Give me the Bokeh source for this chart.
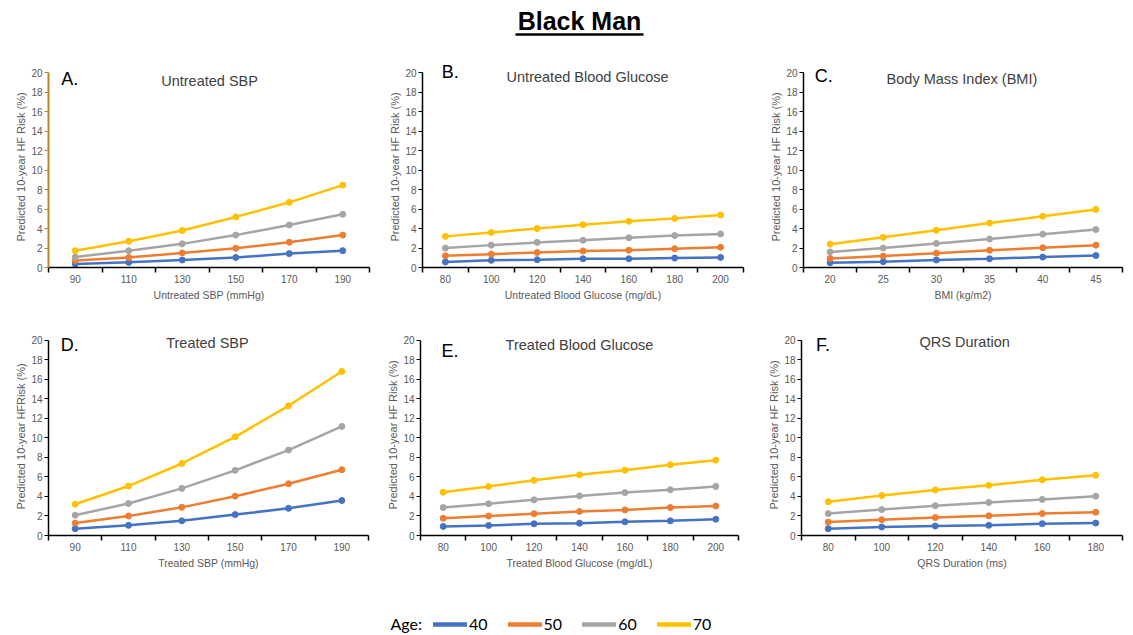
import numpy as np
from bokeh.plotting import figure
from bokeh.layouts import column, row
from bokeh.models import Range1d, FixedTicker, Label, Legend, LegendItem, Title
from bokeh.embed import file_html
from bokeh.resources import INLINE

# ---------------- data ----------------
AGES = ["40", "50", "60", "70"]
COLORS = ["#4472C4", "#ED7D31", "#A5A5A5", "#FFC000"]

sbp_cats = ["90", "110", "130", "150", "170", "190"]
glucose_cats = ["80", "100", "120", "140", "160", "180", "200"]
bmi_cats = ["20", "25", "30", "35", "40", "45"]
qrs_cats = ["80", "100", "120", "140", "160", "180"]

# A. Untreated SBP
a_40 = [0.37, 0.53, 0.77, 1.03, 1.43, 1.73]
a_50 = [0.73, 1.03, 1.50, 1.97, 2.60, 3.33]
a_60 = [1.07, 1.73, 2.43, 3.33, 4.37, 5.47]
a_70 = [1.73, 2.70, 3.80, 5.20, 6.70, 8.47]
# B. Untreated Blood Glucose
b_40 = [0.57, 0.74, 0.80, 0.90, 0.90, 0.97, 1.04]
b_50 = [1.20, 1.37, 1.54, 1.70, 1.78, 1.94, 2.08]
b_60 = [2.00, 2.30, 2.58, 2.80, 3.05, 3.28, 3.45]
b_70 = [3.20, 3.60, 4.00, 4.40, 4.75, 5.05, 5.40]
# C. BMI
c_40 = [0.50, 0.60, 0.77, 0.90, 1.07, 1.23]
c_50 = [0.93, 1.17, 1.47, 1.77, 2.03, 2.30]
c_60 = [1.60, 2.00, 2.47, 2.93, 3.43, 3.90]
c_70 = [2.40, 3.10, 3.83, 4.57, 5.27, 5.97]
# D. Treated SBP
d_40 = [0.70, 1.04, 1.50, 2.14, 2.78, 3.58]
d_50 = [1.27, 2.00, 2.88, 4.02, 5.29, 6.73]
d_60 = [2.08, 3.28, 4.82, 6.67, 8.74, 11.16]
d_70 = [3.20, 5.06, 7.37, 10.10, 13.27, 16.78]
# E. Treated Blood Glucose
e_40 = [0.93, 1.03, 1.20, 1.26, 1.40, 1.50, 1.66]
e_50 = [1.76, 1.99, 2.23, 2.46, 2.62, 2.86, 3.02]
e_60 = [2.86, 3.26, 3.65, 4.05, 4.39, 4.68, 5.02]
e_70 = [4.42, 5.02, 5.65, 6.21, 6.68, 7.24, 7.71]
# F. QRS Duration
f_40 = [0.70, 0.87, 0.97, 1.04, 1.21, 1.27]
f_50 = [1.37, 1.61, 1.84, 2.01, 2.24, 2.38]
f_60 = [2.24, 2.65, 3.05, 3.38, 3.69, 4.02]
f_70 = [3.45, 4.09, 4.66, 5.13, 5.70, 6.16]

y_ticks = [0, 2, 4, 6, 8, 10, 12, 14, 16, 18, 20]

FONT = "Liberation Sans"
GRAY = "#595959"
Y_TOP = 22  # headroom above the 0-20 axis for the panel captions


def panel(cats, series, xlabel, ylabel, letter, title, w, h, bl, br, bt, bb,
          letter_xy, title_xy, yaxis_color="#000000", yaxis_width=1.5):
    n = len(cats)
    p = figure(width=w, height=h, min_border_left=bl, min_border_right=br,
               min_border_top=bt, min_border_bottom=bb,
               x_range=Range1d(0, n), y_range=Range1d(0, Y_TOP),
               output_backend="svg", toolbar_location=None)
    p.outline_line_color = None
    p.grid.visible = False
    xs = [i + 0.5 for i in range(n)]
    for vals, col in zip(series, COLORS):
        p.line(xs, vals, line_color=col, line_width=2.5)
        p.scatter(xs, vals, size=6, fill_color=col, line_color=col)

    xa = p.xaxis[0]
    xa.ticker = FixedTicker(ticks=xs, minor_ticks=list(range(n + 1)))
    xa.major_label_overrides = {x: c for x, c in zip(xs, cats)}
    xa.major_tick_line_color = None
    xa.major_tick_out = 5
    xa.major_tick_in = 0
    xa.minor_tick_out = 5
    xa.minor_tick_in = 0
    xa.minor_tick_line_color = "#000000"
    xa.minor_tick_line_width = 1.5
    xa.axis_line_color = "#000000"
    xa.axis_line_width = 1.5
    xa.major_label_standoff = 2
    xa.axis_label = xlabel
    xa.axis_label_standoff = 3

    ya = p.yaxis[0]
    ya.ticker = FixedTicker(ticks=y_ticks, minor_ticks=[])
    ya.bounds = (0, 20)
    ya.major_tick_out = 4
    ya.major_tick_in = 0
    ya.major_tick_line_color = yaxis_color
    ya.axis_line_color = yaxis_color
    ya.axis_line_width = yaxis_width
    ya.major_label_standoff = 2

    for ax in (xa, ya):
        ax.major_label_text_font = FONT
        ax.major_label_text_font_size = "10px"
        ax.major_label_text_color = GRAY
        ax.axis_label_text_font = FONT
        ax.axis_label_text_font_size = "10.5px"
        ax.axis_label_text_color = GRAY
        ax.axis_label_text_font_style = "normal"

    # y-axis title, centred on the 0-20 span of the axis
    p.add_layout(Title(text=ylabel, align="left", offset=26, standoff=3,
                       text_font=FONT, text_font_size="11px",
                       text_font_style="normal", text_color=GRAY), "left")

    p.add_layout(Label(x=letter_xy[0], y=letter_xy[1], text=letter,
                       text_font=FONT, text_font_size="18px",
                       text_color="#000000", text_align="left",
                       text_baseline="middle"))
    p.add_layout(Label(x=title_xy[0], y=title_xy[1], text=title,
                       text_font=FONT, text_font_size="14.5px",
                       text_color="#404040", text_align="center",
                       text_baseline="middle"))
    return p


YL = "Predicted 10-year HF Risk (%)"

pA = panel(sbp_cats, [a_40, a_50, a_60, a_70], "Untreated SBP (mmHg)", YL,
           "A.", "Untreated SBP", 382, 270, 48, 13, 7, 43,
           (0.24, 19.35), (3.01, 19.2), yaxis_color="#B8862B", yaxis_width=2)
pB = panel(glucose_cats, [b_40, b_50, b_60, b_70],
           "Untreated Blood Glucose (mg/dL)", YL,
           "B.", "Untreated Blood Glucose", 381, 270, 40, 20, 13, 38,
           (0.42, 20.1), (3.6, 19.6))
pC = panel(bmi_cats, [c_40, c_50, c_60, c_70], "BMI (kg/m2)", YL,
           "C.", "Body Mass Index (BMI)", 361, 270, 40, 2, 9, 41,
           (0.21, 19.7), (2.98, 19.4))
pD = panel(sbp_cats, [d_40, d_50, d_60, d_70], "Treated SBP (mmHg)",
           "Predicted 10-year HFRisk (%)",
           "D.", "Treated SBP", 382, 275, 48, 14, 10, 46,
           (0.23, 19.5), (2.98, 19.7))
pE = panel(glucose_cats, [e_40, e_50, e_60, e_70],
           "Treated Blood Glucose (mg/dL)", YL,
           "E.", "Treated Blood Glucose", 381, 275, 38, 25, 4, 50,
           (0.46, 18.93), (3.5, 19.5))
pF = panel(qrs_cats, [f_40, f_50, f_60, f_70], "QRS Duration (ms)", YL,
           "F.", "QRS Duration", 361, 275, 38, 2, 10, 46,
           (0.27, 19.5), (3.05, 19.85))

# ---------------- title ----------------
W = 1124
pt = figure(width=W, height=40, x_range=Range1d(0, W), y_range=Range1d(0, 40),
            x_axis_type=None, y_axis_type=None, min_border=0,
            output_backend="svg", toolbar_location=None)
pt.outline_line_color = None
pt.grid.visible = False
pt.add_layout(Label(x=579, y=20, text="Black Man", text_align="center",
                    text_baseline="middle", text_font=FONT,
                    text_font_style="bold", text_font_size="25px",
                    text_color="#000000"))
pt.segment(x0=[515], y0=[6], x1=[643], y1=[6], line_width=2.5,
           line_color="#000000")

# ---------------- legend ----------------
LH = 635 - 40 - 270 - 275
pl = figure(width=W, height=LH, x_range=Range1d(0, W), y_range=Range1d(0, LH),
            x_axis_type=None, y_axis_type=None, min_border=0,
            output_backend="svg", toolbar_location=None)
pl.outline_line_color = None
pl.grid.visible = False
items = []
for age, col in zip(AGES, COLORS):
    r = pl.line(x=np.array([np.nan]), y=np.array([np.nan]), line_color=col,
                line_width=4.5, line_cap="round")
    items.append(LegendItem(label=age, renderers=[r]))
leg = Legend(items=items, orientation="horizontal", location=(433, 2),
             glyph_width=34, glyph_height=16, label_standoff=2,
             label_width=18, spacing=20, padding=0, margin=0,
             border_line_color=None, background_fill_alpha=0,
             label_text_font="Lato", label_text_font_size="16px",
             label_text_color="#000000")
pl.add_layout(leg)
pl.add_layout(Label(x=390, y=12, text="Age:", text_font="Lato",
                    text_font_size="16px", text_color="#000000",
                    text_align="left", text_baseline="middle"))

layout = column(pt, row(pA, pB, pC), row(pD, pE, pF), pl)

open("out.html", "w").write(file_html(layout, INLINE))
